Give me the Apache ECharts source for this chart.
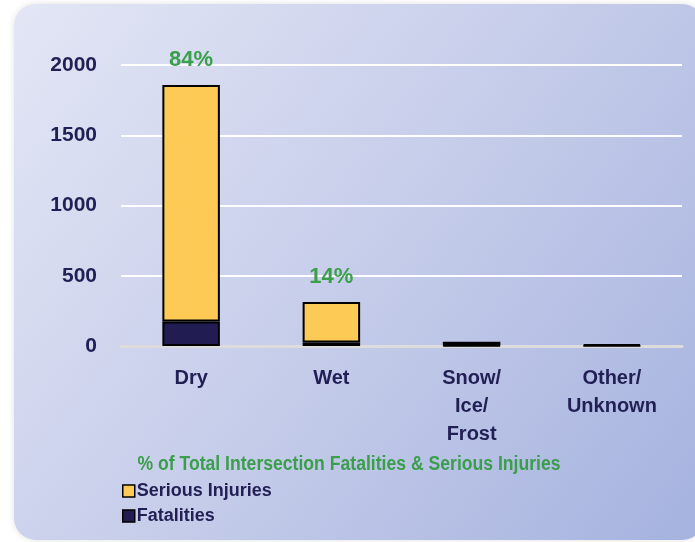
<!DOCTYPE html>
<html><head><meta charset="utf-8">
<script src="https://cdn.jsdelivr.net/npm/echarts@6/dist/echarts.min.js"></script>
<style>html,body{margin:0;padding:0;background:#fff}#c{width:695px;height:542px}</style>
</head><body><div id="c"></div>
<script>
const categories = ['Dry', 'Wet', 'Snow/\nIce/\nFrost', 'Other/\nUnknown'];
const fatalities = [175, 25, 4, 3];
const seriousInjuries = [1683, 288, 26, 9];
const pctLabels = ['84%', '14%', '', ''];
const yTicks = [0, 500, 1000, 1500, 2000];
const legendTitle = '% of Total Intersection Fatalities & Serious Injuries';

const FONT = '"Liberation Sans", Arial, sans-serif';
const NAVY = '#221f55';
const GREEN = '#3a9e4a';

const chart = echarts.init(document.getElementById('c'), null, {renderer: 'canvas'});
chart.setOption({
  backgroundColor: '#ffffff',
  animation: false,
  graphic: [{
    type: 'rect', z: -10, silent: true,
    shape: {x: 14, y: 4, width: 690, height: 536, r: 22},
    style: {
      fill: new echarts.graphic.LinearGradient(0, 0, 1, 1, [
        {offset: 0, color: '#e3e6f5'},
        {offset: 0.5, color: '#c6cdea'},
        {offset: 1, color: '#a5b2df'}
      ]),
      shadowBlur: 6, shadowColor: 'rgba(0,0,0,0.12)'
    }
  }, {
    type: 'text', x: 349, y: 464, scaleX: 0.88, silent: true,
    style: {
      text: legendTitle, align: 'center', verticalAlign: 'middle',
      fill: GREEN, font: 'bold 20px ' + FONT
    }
  }],
  legend: {
    orient: 'vertical', left: 117, top: 477,
    itemWidth: 12, itemHeight: 12, itemGap: 7,
    icon: 'rect',
    data: [
      {name: 'Serious Injuries', itemStyle: {borderColor: '#000', borderWidth: 1.5}},
      {name: 'Fatalities', itemStyle: {borderColor: '#000', borderWidth: 1.5}}
    ],
    textStyle: {color: NAVY, fontFamily: FONT, fontWeight: 'bold', fontSize: 18, padding: [0, 0, 0, -3]}
  },
  grid: {left: 121, right: 13, top: 65, bottom: 196, containLabel: false},
  xAxis: {
    type: 'category', data: categories,
    axisLine: {show: true, lineStyle: {color: '#dcdcdc', width: 3}},
    axisTick: {show: false},
    axisLabel: {color: NAVY, fontFamily: FONT, fontWeight: 'bold', fontSize: 20, lineHeight: 28, margin: 18}
  },
  yAxis: {
    type: 'value', min: 0, max: 2000, interval: 500,
    axisLine: {show: false}, axisTick: {show: false},
    splitLine: {lineStyle: {color: '#ffffff', width: 2}},
    axisLabel: {color: NAVY, fontFamily: FONT, fontWeight: 'bold', fontSize: 21, margin: 24,
      formatter: v => yTicks.includes(v) ? String(v) : ''}
  },
  series: [
    {
      name: 'Fatalities', type: 'bar', stack: 'total', barWidth: '41%',
      data: fatalities,
      itemStyle: {color: '#211d52', borderColor: '#000', borderWidth: 2}
    },
    {
      name: 'Serious Injuries', type: 'bar', stack: 'total', barWidth: '41%',
      data: seriousInjuries,
      itemStyle: {color: '#fdca55', borderColor: '#000', borderWidth: 2},
      label: {
        show: true, position: 'top', distance: 14,
        formatter: p => pctLabels[p.dataIndex],
        color: GREEN, fontFamily: FONT, fontWeight: 'bold', fontSize: 22
      }
    }
  ]
});
</script></body></html>
